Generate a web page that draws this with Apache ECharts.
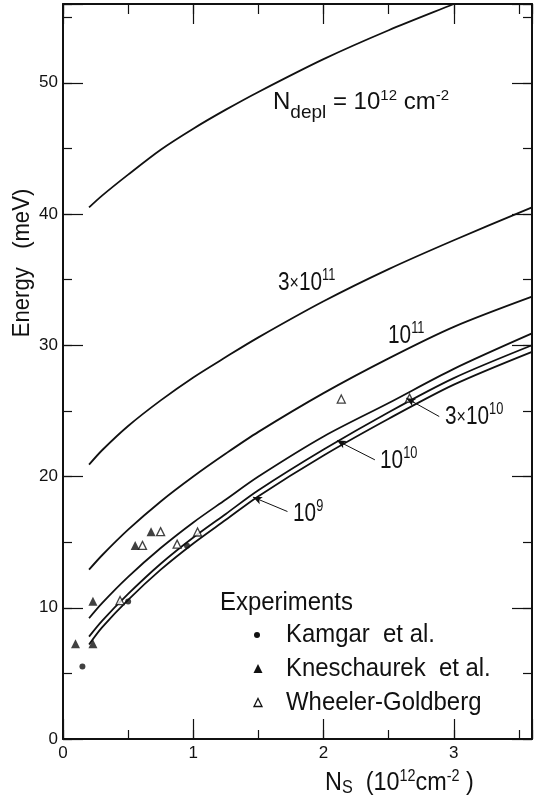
<!DOCTYPE html>
<html>
<head>
<meta charset="utf-8">
<script src="https://cdn.jsdelivr.net/npm/echarts/dist/echarts.min.js"></script>
<style>
  html, body { margin: 0; padding: 0; background: #fff; }
  #chart { width: 535px; height: 799px; }
</style>
</head>
<body>
<div id="chart"></div>
<script>
// N_s grid (10^12 cm^-2) the curves were read at
const nsGrid = [0.2, 0.3, 0.5, 0.75, 1.0, 1.25, 1.5, 2.0, 2.5, 3.0, 3.6];

// subband energy (meV) for each depletion charge
const curve1e12 = [40.5, 41.4, 43.0, 44.9, 46.5, 47.95, 49.3, 51.8, 54.0, 56.0, 58.4];
const curve3e11 = [20.9, 22.0, 23.85, 25.8, 27.55, 29.1, 30.6, 33.35, 35.8, 38.0, 40.5];
const curve1e11 = [12.9, 14.0, 15.95, 18.1, 20.0, 21.75, 23.4, 26.35, 29.0, 31.4, 33.7];
const curve3e10 = [9.2, 10.35, 12.35, 14.55, 16.5, 18.25, 20.0, 23.05, 25.6, 28.2, 30.9];
const curve1e10 = [7.8, 9.0, 11.05, 13.35, 15.35, 17.15, 18.95, 22.05, 24.9, 27.5, 30.0];
const curve1e9  = [7.2, 8.5, 10.6, 12.9, 14.9, 16.7, 18.5, 21.6, 24.4, 27.0, 29.5];

// experiments [N_s, E]
const kamgar = [[0.149, 5.53], [0.50, 10.48], [0.952, 14.72]];
const kneschaurek = [[0.096, 7.26], [0.23, 10.5], [0.23, 7.26], [0.554, 14.75], [0.676, 15.8]];
const wheeler = [[0.438, 10.55], [0.61, 14.75], [0.749, 15.8], [0.876, 14.85], [1.033, 15.77], [2.136, 25.9], [2.66, 25.97]];

// pointer lines from the small labels to their curves
const pointer3e10 = [[2.635, 25.97], [2.888, 24.57]];
const pointer1e10 = [[2.103, 22.74], [2.394, 21.27]];
const pointer1e9 = [[1.458, 18.43], [1.723, 17.33]];

const xTickLabels = [0, 1, 2, 3];
const yTickLabels = [0, 10, 20, 30, 40, 50];
const xMax = 3.6;
const yMax = 56;

const FONT = "'Liberation Sans', Arial, sans-serif";
const INK = '#111';

function axis(dim, position, interval, tickLen, showLine, showLabel) {
  const isX = dim === 'x';
  const labels = isX ? xTickLabels : yTickLabels;
  return {
    type: 'value',
    position: position,
    min: 0,
    max: isX ? xMax : yMax,
    interval: interval,
    splitLine: { show: false },
    axisLine: { show: showLine, onZero: false, lineStyle: { color: INK, width: 2 } },
    axisTick: { show: true, inside: true, length: tickLen, lineStyle: { color: INK, width: 1.2 } },
    axisLabel: {
      show: showLabel,
      margin: isX ? 6 : 5,
      fontSize: 17,
      fontFamily: FONT,
      color: INK,
      formatter: function (v) { return labels.indexOf(v) >= 0 ? String(v) : ''; }
    }
  };
}

function pointer(p) {
  return {
    silent: true,
    symbol: ['arrow', 'none'],
    symbolSize: [6, 9],
    label: { show: false },
    lineStyle: { color: INK, width: 1, type: 'solid' },
    emphasis: { disabled: true },
    data: [[{ coord: p[0] }, { coord: p[1] }]]
  };
}

function curve(values, mark) {
  const s = {
    type: 'line',
    data: nsGrid.map(function (x, i) { return [x, values[i]]; }),
    smooth: 0.3,
    symbol: 'none',
    showSymbol: false,
    clip: true,
    silent: true,
    lineStyle: { color: INK, width: 1.8 },
    z: 2
  };
  if (mark) s.markLine = pointer(mark);
  return s;
}

// rich text styles for the hand lettering
const rich = {
  n:   { fontSize: 24, lineHeight: 26, fontFamily: FONT, fill: INK, verticalAlign: 'middle' },
  b:   { fontSize: 26, lineHeight: 28, fontFamily: FONT, fill: INK, verticalAlign: 'middle' },
  x:   { fontSize: 20, lineHeight: 20, fontFamily: FONT, fill: INK, verticalAlign: 'middle' },
  sup: { fontSize: 16, lineHeight: 16, padding: [0, 0, 14, 0], fontFamily: FONT, fill: INK, verticalAlign: 'middle' },
  sup1:{ fontSize: 15, lineHeight: 15, padding: [0, 0, 13, 0], fontFamily: FONT, fill: INK, verticalAlign: 'middle' },
  sub: { fontSize: 19, lineHeight: 19, padding: [21, 0, 0, 0], fontFamily: FONT, fill: INK, verticalAlign: 'middle' },
  B:   { fontSize: 26, lineHeight: 28, fontFamily: FONT, fill: INK, verticalAlign: 'middle' },
  sup2:{ fontSize: 16, lineHeight: 16, padding: [0, 0, 13, 0], fontFamily: FONT, fill: INK, verticalAlign: 'middle' },
  sub2:{ fontSize: 18, lineHeight: 18, padding: [10, 0, 0, 0], fontFamily: FONT, fill: INK, verticalAlign: 'middle' }
};

function label(x, y, text, sx) {
  return {
    type: 'text', x: x, y: y, scaleX: sx || 1, silent: true,
    style: { text: text, rich: rich, align: 'left', verticalAlign: 'middle', fill: INK, fontSize: 24, fontFamily: FONT }
  };
}

function plain(x, y, text, size, sx) {
  return {
    type: 'text', x: x, y: y, scaleX: sx || 1, silent: true,
    style: { text: text, fontSize: size, fontFamily: FONT, fill: INK, align: 'left', verticalAlign: 'middle' }
  };
}

const chart = echarts.init(document.getElementById('chart'), null, { renderer: 'canvas' });

chart.setOption({
  animation: false,
  backgroundColor: '#fff',
  grid: { left: 63, right: -2, top: 4, bottom: 60, containLabel: false },
  xAxis: [
    axis('x', 'bottom', 1, 20, true, true),
    axis('x', 'bottom', 0.5, 9, false, false),
    axis('x', 'top', 1, 20, true, false),
    axis('x', 'top', 0.5, 10, false, false)
  ],
  yAxis: [
    axis('y', 'left', 10, 20, true, true),
    axis('y', 'left', 5, 9, false, false),
    axis('y', 'right', 10, 20, true, false),
    axis('y', 'right', 5, 9, false, false)
  ],
  series: [
    curve(curve1e12),
    curve(curve3e11),
    curve(curve1e11),
    curve(curve3e10, pointer3e10),
    curve(curve1e10, pointer1e10),
    curve(curve1e9, pointer1e9),
    {
      name: 'Kamgar et al.', type: 'scatter', data: kamgar, symbol: 'circle', symbolSize: 6,
      itemStyle: { color: INK }, silent: true, z: 3
    },
    {
      name: 'Kneschaurek et al.', type: 'scatter', data: kneschaurek, symbol: 'triangle', symbolSize: 9,
      itemStyle: { color: INK }, silent: true, z: 3
    },
    {
      name: 'Wheeler-Goldberg', type: 'scatter', data: wheeler, symbol: 'triangle', symbolSize: 8,
      itemStyle: { color: '#fff', borderColor: INK, borderWidth: 1.3 }, silent: true, z: 3
    }
  ],
  graphic: [
    label(273, 102, '{n|N}{sub|depl}{n| = 10}{sup1|12}{n| cm}{sup1|-2}'),
    label(278, 283, '{b|3}{x|×}{b|10}{sup|11}', 0.8),
    label(388, 336, '{b|10}{sup|11}', 0.8),
    label(445, 417, '{b|3}{x|×}{b|10}{sup|10}', 0.8),
    label(380, 461, '{b|10}{sup|10}', 0.8),
    label(293, 514, '{b|10}{sup|9}', 0.8),
    label(325, 783, '{B|N}{sub2|S}{B|  (10}{sup2|12}{B|cm}{sup2|-2}{B| )}', 0.9),
    {
      type: 'text', x: 22, y: 263, rotation: Math.PI / 2, scaleX: 0.92, silent: true,
      style: { text: 'Energy   (meV)', fontSize: 24, fontFamily: FONT, fill: INK, align: 'center', verticalAlign: 'middle' }
    },
    // legend
    plain(220, 603, 'Experiments', 26, 0.92),
    { type: 'circle', shape: { cx: 257, cy: 635, r: 3 }, style: { fill: INK }, silent: true },
    plain(286, 635, 'Kamgar  et al.', 26, 0.92),
    { type: 'polygon', shape: { points: [[258, 664], [262.5, 673], [253.5, 673]] }, style: { fill: INK }, silent: true },
    plain(286, 669, 'Kneschaurek  et al.', 26, 0.92),
    { type: 'polygon', shape: { points: [[258, 698.5], [262, 706.5], [254, 706.5]] }, style: { fill: '#fff', stroke: INK, lineWidth: 1.3 }, silent: true },
    plain(286, 703, 'Wheeler-Goldberg', 26, 0.92)
  ]
});
</script>
</body>
</html>
